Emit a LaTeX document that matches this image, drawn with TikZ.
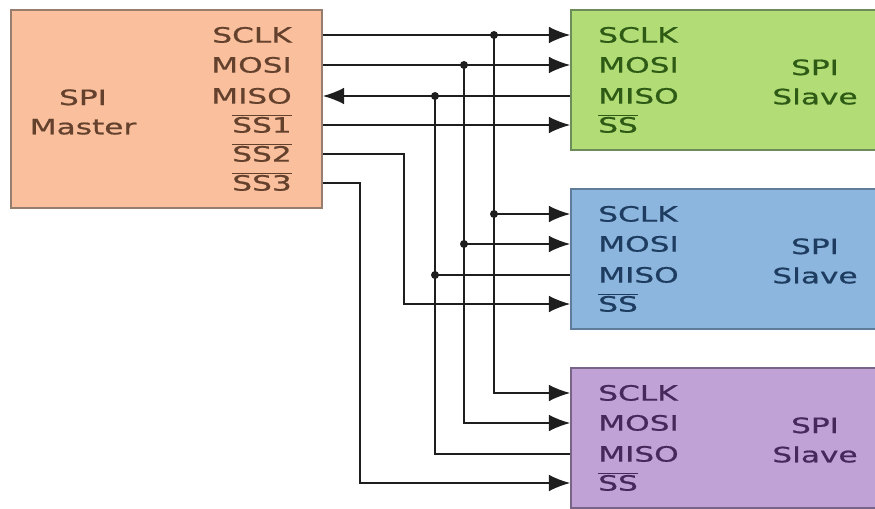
\documentclass[tikz,border=0pt]{standalone}
\usepackage{fontspec}
\setmainfont{DejaVu Sans}[FakeStretch=1.48, FakeBold=0.8]
\usepackage{xcolor}
\usepackage{tikz}
\usetikzlibrary{positioning, arrows.meta}

\definecolor{masterfill}{RGB}{250,192,158}
\definecolor{masterdraw}{RGB}{150,125,110}
\definecolor{mastertext}{RGB}{100,65,45}
\definecolor{greenfill}{RGB}{178,220,118}
\definecolor{greendraw}{RGB}{110,140,90}
\definecolor{greentext}{RGB}{45,90,20}
\definecolor{bluefill}{RGB}{140,182,222}
\definecolor{bluedraw}{RGB}{95,125,155}
\definecolor{bluetext}{RGB}{30,60,95}
\definecolor{purplefill}{RGB}{192,162,214}
\definecolor{purpledraw}{RGB}{120,100,135}
\definecolor{purpletext}{RGB}{70,40,90}
\definecolor{wire}{RGB}{30,30,30}

\newcommand{\pinfont}{\fontsize{18}{25}\selectfont}
\newcommand{\barsig}[1]{$\overline{\hbox{#1}}$}

\tikzset{
  box/.style={draw, line width=1.3pt, rectangle, inner sep=0pt},
  pin/.style={inner sep=0pt, text height=13pt, text depth=0pt, font=\pinfont},
  sig/.style={line width=1.6pt, draw=wire},
  tip/.style={-{Latex[length=0.64cm,width=0.5cm]}},
  jdot/.style={circle, fill=wire, inner sep=0pt, minimum size=0.24cm}
}

\begin{document}
\begin{tikzpicture}[x=0.03cm, y=-0.03cm]
    \path[use as bounding box, clip] (0,0) rectangle (875,508);

    % Master
    \node[box, draw=masterdraw, fill=masterfill, minimum width=9.33cm, minimum height=5.94cm] (master) at (166.5,109) {};
    \node[font=\pinfont, align=center, text=mastertext] (mlabel) at (83,112) {SPI\\Master};
    \node[pin, anchor=east, text=mastertext] (mclk) at (292,35) {SCLK};
    \node[pin, anchor=east, text=mastertext] (mmosi) at (292,65) {MOSI};
    \node[pin, anchor=east, text=mastertext] (mmiso) at (292,96) {MISO};
    \node[pin, anchor=east, text=mastertext] (mssa) at (292,125) {\barsig{SS1}};
    \node[pin, anchor=east, text=mastertext] (mssb) at (292,154) {\barsig{SS2}};
    \node[pin, anchor=east, text=mastertext] (mssc) at (292,183) {\barsig{SS3}};

    % Slaves
    \foreach \s/\y/\clr in {1/80/green, 2/259/blue, 3/438/purple} {
        \node[box, draw=\clr draw, fill=\clr fill, minimum width=9.21cm, minimum height=4.2cm] (s\s) at (724.5,\y) {};
        \node[pin, anchor=west, text=\clr text] (s\s-clk) at (598,\y-45) {SCLK};
        \node[pin, anchor=west, text=\clr text] (s\s-mosi) at (598,\y-15) {MOSI};
        \node[pin, anchor=west, text=\clr text] (s\s-miso) at (598,\y+16) {MISO};
        \node[pin, anchor=west, text=\clr text] (s\s-ss) at (598,\y+45) {\barsig{SS}};
        \node[font=\pinfont, align=center, text=\clr text] (s\s-label) at (815,\y+2) {SPI\\Slave};
    }

    % Buses
    \coordinate (busclk) at (494,0);
    \coordinate (busmosi) at (464,0);
    \coordinate (busmiso) at (435,0);
    \coordinate (busssb) at (404,0);
    \coordinate (busssc) at (360,0);

    % SCLK
    \draw[sig,tip] (mclk -| master.east) -- (mclk -| s1.west);
    \draw[sig,tip] (busclk |- mclk) |- (s3-clk -| s3.west);
    \draw[sig,tip] (busclk |- s2-clk) -- (s2-clk -| s2.west);
    % MOSI
    \draw[sig,tip] (mmosi -| master.east) -- (mmosi -| s1.west);
    \draw[sig,tip] (busmosi |- mmosi) |- (s3-mosi -| s3.west);
    \draw[sig,tip] (busmosi |- s2-mosi) -- (s2-mosi -| s2.west);
    % MISO
    \draw[sig,tip] (mmiso -| s1.west) -- (mmiso -| master.east);
    \draw[sig] (busmiso |- mmiso) |- (s3-miso -| s3.west);
    \draw[sig] (busmiso |- s2-miso) -- (s2-miso -| s2.west);
    % slave selects
    \draw[sig,tip] (mssa -| master.east) -- (mssa -| s1.west);
    \draw[sig,tip] (mssb -| master.east) -| (busssb |- s2-ss) -- (s2-ss -| s2.west);
    \draw[sig,tip] (mssc -| master.east) -| (busssc |- s3-ss) -- (s3-ss -| s3.west);

    % Junctions
    \node[jdot] (jclka) at (busclk |- mclk) {};
    \node[jdot] (jclkb) at (busclk |- s2-clk) {};
    \node[jdot] (jmosia) at (busmosi |- mmosi) {};
    \node[jdot] (jmosib) at (busmosi |- s2-mosi) {};
    \node[jdot] (jmisoa) at (busmiso |- mmiso) {};
    \node[jdot] (jmisob) at (busmiso |- s2-miso) {};
\end{tikzpicture}
\end{document}
